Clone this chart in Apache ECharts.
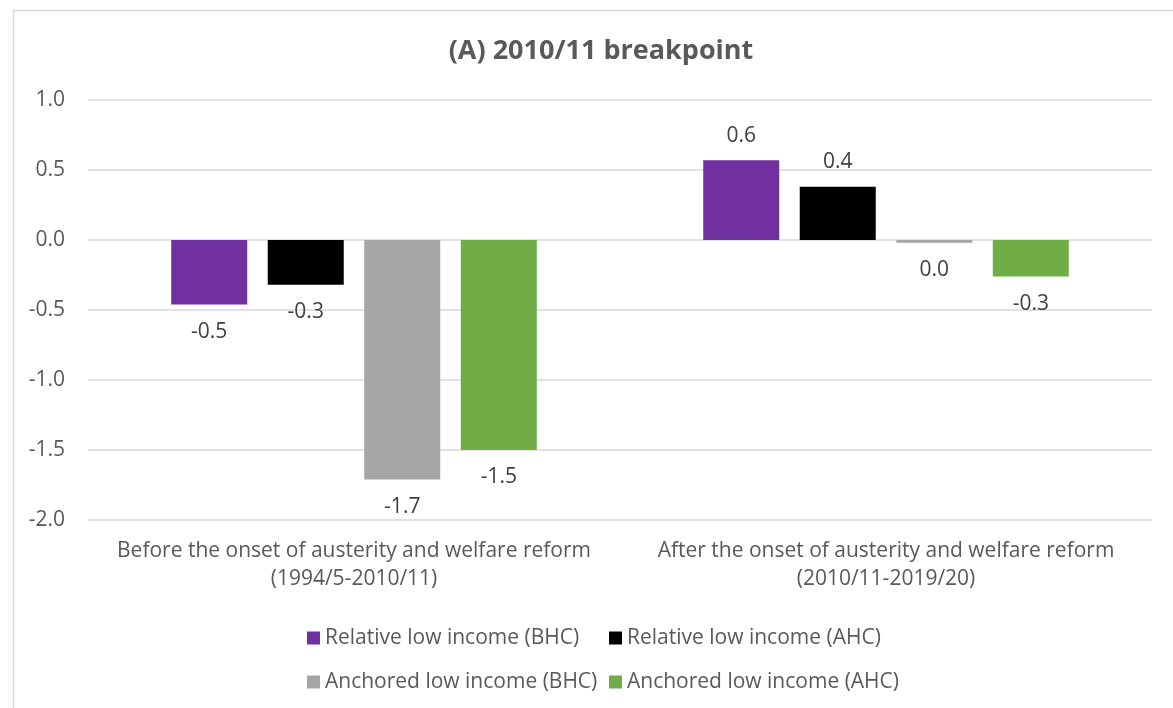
<!DOCTYPE html>
<html>
<head>
<meta charset="utf-8">
<script src="https://cdn.jsdelivr.net/npm/echarts@6/dist/echarts.min.js"></script>
<style>
  html, body { margin: 0; padding: 0; background: #ffffff; }
  #chart { width: 1173px; height: 708px; }
</style>
</head>
<body>
<div id="chart"></div>
<script>
// Change in low-income rates, before and after the 2010/11 breakpoint
const titleText = '(A) 2010/11 breakpoint';
const categories = [
  'Before the onset of austerity and welfare reform\n(1994/5-2010/11)',
  'After the onset of austerity and welfare reform\n(2010/11-2019/20)'
];
const seriesNames = [
  'Relative low income (BHC)',
  'Relative low income (AHC)',
  'Anchored low income (BHC)',
  'Anchored low income (AHC)'
];
const relativeBHC = [-0.46, 0.57];
const relativeAHC = [-0.32, 0.38];
const anchoredBHC = [-1.71, -0.02];
const anchoredAHC = [-1.50, -0.26];
const yTicks = { min: -2.0, max: 1.0, interval: 0.5 };

const seriesValues = [relativeBHC, relativeAHC, anchoredBHC, anchoredAHC];
const seriesColors = ['#7030a0', '#000000', '#a5a5a5', '#70ad47'];

const FONT = 'Open Sans';
const TEXT = '#595959';
const FS = 21;

function fmt1(v) {
  const r = Math.round(v * 10) / 10;
  return (r === 0 ? 0 : r).toFixed(1);
}

const series = seriesNames.map((name, i) => ({
  name: name,
  type: 'bar',
  barWidth: 76,
  barGap: '27%',
  itemStyle: { color: seriesColors[i] },
  data: seriesValues[i].map(v => ({
    value: v,
    label: v < 0 ? { position: 'bottom', distance: 17 } : { position: 'top', distance: 14 }
  })),
  label: {
    show: true,
    formatter: p => fmt1(p.value),
    color: '#404040',
    fontFamily: FONT,
    fontSize: FS
  }
}));

const legendText = { color: TEXT, fontFamily: FONT, fontSize: FS, lineHeight: 22 };

const chart = echarts.init(document.getElementById('chart'), null, { renderer: 'canvas' });
chart.setOption({
  backgroundColor: '#ffffff',
  animation: false,
  title: {
    text: titleText,
    left: 596,
    textAlign: 'center',
    top: 33,
    textStyle: { color: TEXT, fontFamily: FONT, fontSize: 27, fontWeight: 'bold' }
  },
  graphic: [{
    type: 'rect',
    left: 11,
    top: 8,
    shape: { x: 0, y: 0, width: 1250, height: 800 },
    style: { fill: 'none', stroke: '#d9d9d9', lineWidth: 1.5 },
    silent: true,
    z: -1
  }],
  legend: [
    {
      data: [seriesNames[0], seriesNames[2]],
      orient: 'vertical',
      left: 302,
      top: 622,
      itemWidth: 13,
      itemHeight: 13,
      itemGap: 22,
      icon: 'rect',
      textStyle: legendText
    },
    {
      data: [seriesNames[1], seriesNames[3]],
      orient: 'vertical',
      left: 604,
      top: 622,
      itemWidth: 13,
      itemHeight: 13,
      itemGap: 22,
      icon: 'rect',
      textStyle: legendText
    }
  ],
  grid: { left: 88, right: 21, top: 100, bottom: 188, containLabel: false },
  xAxis: {
    type: 'category',
    data: categories,
    axisLine: { show: false },
    axisTick: { show: false },
    axisLabel: {
      color: TEXT,
      fontFamily: FONT,
      fontSize: FS,
      lineHeight: 28,
      margin: 17,
      interval: 0
    }
  },
  yAxis: {
    type: 'value',
    min: yTicks.min,
    max: yTicks.max,
    interval: yTicks.interval,
    axisLine: { show: false },
    axisTick: { show: false },
    splitLine: { lineStyle: { color: '#d9d9d9', width: 1.5 } },
    axisLabel: {
      color: TEXT,
      fontFamily: FONT,
      fontSize: FS,
      margin: 23,
      formatter: v => v.toFixed(1)
    }
  },
  series: series
});
</script>
</body>
</html>
